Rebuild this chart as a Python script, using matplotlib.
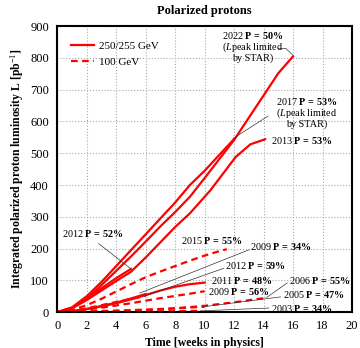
import matplotlib
matplotlib.use("Agg")
import matplotlib.pyplot as plt

plt.rcParams['font.family'] = ['Liberation Serif', 'DejaVu Serif']
plt.rcParams['mathtext.fontset'] = 'custom'
plt.rcParams['mathtext.rm'] = 'Liberation Serif'
plt.rcParams['mathtext.it'] = 'Liberation Serif:italic'
plt.rcParams['mathtext.bf'] = 'Liberation Serif:bold'

# 250/255 GeV runs (solid)
w2022 = [0, 1, 2, 3, 4, 5, 6, 7, 8, 9, 10, 11, 12, 13, 14, 15, 16]
L2022 = [0, 12, 42, 85, 130, 175, 222, 270, 315, 363, 422, 482, 542, 612, 682, 752, 805]
w2017 = [0, 1, 2, 3, 4, 5, 6, 7, 8, 9, 10, 11, 12]
L2017 = [0, 15, 50, 95, 145, 195, 245, 295, 345, 400, 445, 495, 545]
w2013 = [0, 1, 2, 3, 4, 5, 6, 7, 8, 9, 10.4, 12.1, 13.1, 14.1]
L2013 = [0, 12, 38, 68, 98, 127, 172, 220, 268, 311, 384, 488, 528, 544]
w2012 = [0, 1, 2, 3, 4, 5]
L2012 = [0, 14, 42, 75, 107, 136]
w2011 = [0, 1, 2, 3, 4, 5, 6, 7, 8, 9, 10]
L2011 = [0, 3, 10, 18, 28, 40, 54, 68, 80, 88, 93]
w2009a = [0, 1, 2, 3, 4, 5, 6]
L2009a = [0, 3, 10, 19, 30, 43, 57]

# 100 GeV runs (dashed)
w2015 = [0, 1, 2, 3, 4, 5, 6, 7, 8, 9, 10, 11, 11.5]
L2015 = [0, 7, 22, 42, 65, 88, 110, 128, 145, 162, 178, 192, 198]
w2012b = [0, 1, 2, 3, 4, 5, 6]
L2012b = [0, 4, 12, 22, 32, 42, 51]
w2009b = [0, 1, 2, 3, 4, 5, 6, 7, 8, 9, 10]
L2009b = [0, 3, 8, 14, 21, 28, 36, 44, 51, 58, 66]
w2006 = [0, 2, 4, 6, 8, 10, 12, 14]
L2006 = [0, 1, 3, 6, 12, 20, 31, 44]
w2005 = [0, 2, 4, 6, 8, 10]
L2005 = [0, 2, 5, 8, 12, 17]
w2003 = [0, 2, 4, 6, 8, 9.5]
L2003 = [0, 1, 1.5, 2, 3, 4]

xticks = list(range(0, 21, 2))
yticks = list(range(0, 901, 100))

red = '#ff0000'
fig = plt.figure(figsize=(3.6, 3.48), dpi=100)
ax = fig.add_axes([0.159, 0.103, 0.819, 0.822])

solid = [(w2022, L2022), (w2017, L2017), (w2013, L2013), (w2012, L2012), (w2011, L2011), (w2009a, L2009a)]
dashed = [(w2015, L2015), (w2012b, L2012b), (w2009b, L2009b), (w2006, L2006), (w2005, L2005), (w2003, L2003)]
for i, (w, L) in enumerate(solid):
    ax.plot(w, L, color=red, lw=1.6, label='250/255 GeV' if i == 0 else None)
for i, (w, L) in enumerate(dashed):
    ax.plot(w, L, color=red, lw=1.6, ls=(0, (3, 2)), label='100 GeV' if i == 0 else None)

ax.set_xlim(0, 20)
ax.set_ylim(0, 900)
ax.set_xticks(xticks)
ax.set_yticks(yticks)
ax.tick_params(labelsize=9, length=0, pad=6)
ax.grid(True, color='#aaaaaa', ls=':', lw=0.8)
for s in ax.spines.values():
    s.set_linewidth(1.5)

ax.set_title('Polarized protons', fontsize=9, fontweight='bold', pad=9)
ax.set_xlabel('Time [weeks in physics]', fontsize=8.5, fontweight='bold', labelpad=3)
ax.set_ylabel('Integrated polarized proton luminosity L [pb$^{-1}$]', fontsize=8.5, fontweight='bold', labelpad=3)

leg = ax.legend(loc='upper left', frameon=False, fontsize=8, handlelength=2.0,
                bbox_to_anchor=(0.01, 0.985), borderaxespad=0.6, labelspacing=0.5,
                handletextpad=0.5)

fs = 7.3
def ptxt(year, p):
    return year + r' $\mathbf{P\,=\,' + p + r'\%}$'

def lab(x, y, year, p, ha='left'):
    ax.text(x, y, ptxt(year, p), fontsize=fs, ha=ha, va='center')

def ptr(x0, y0, x1, y1):
    ax.plot([x0, x1], [y0, y1], color='#333333', lw=0.5)

# 2022
ax.text(13.25, 871, ptxt('2022', '50'), fontsize=fs, ha='center', va='center')
ax.text(13.25, 833, r'($\mathit{L}$peak limited', fontsize=fs, ha='center', va='center')
ax.text(13.25, 798, 'by STAR)', fontsize=fs, ha='center', va='center')
ax.plot([15.0, 15.5, 15.95], [830, 830, 810], color='#333333', lw=0.5)
# 2017
ax.text(16.9, 664, ptxt('2017', '53'), fontsize=fs, ha='center', va='center')
ax.text(16.9, 626, r'($\mathit{L}$peak limited', fontsize=fs, ha='center', va='center')
ax.text(16.9, 590, 'by STAR)', fontsize=fs, ha='center', va='center')
ptr(14.3, 617, 11.95, 547)
lab(14.5, 541, '2013', '53')
lab(0.3, 248, '2012', '52')
ptr(2.8, 216, 4.95, 138)
lab(8.4, 226, '2015', '55')
lab(13.1, 205, '2009', '34')
ptr(13.0, 196, 5.6, 60)
lab(11.4, 148, '2012', '59')
ptr(11.3, 138, 5.9, 50)
lab(10.4, 100, '2011', '48')
lab(10.2, 64, '2009', '56')
lab(15.7, 100, '2006', '55')
ptr(15.6, 92, 14.2, 46)
lab(15.3, 57, '2005', '47')
ptr(15.15, 48, 9.9, 17)
lab(14.5, 13, '2003', '34')
ptr(14.35, 13, 9.7, 4)

fig.savefig('out.png', dpi=100)
